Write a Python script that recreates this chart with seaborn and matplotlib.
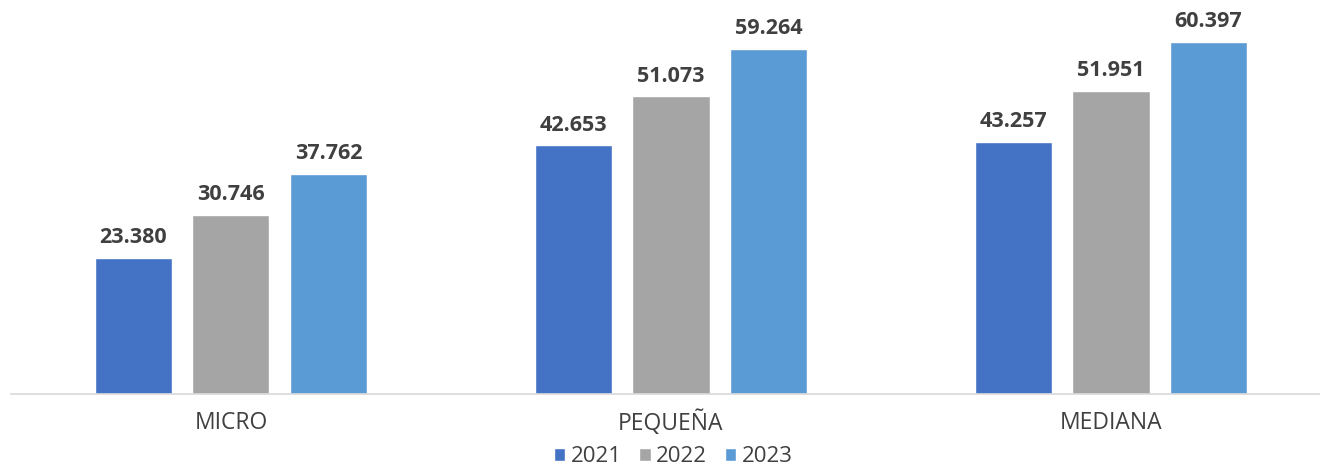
import pandas as pd
import matplotlib.pyplot as plt
import seaborn as sns

sns.set_theme(style="white")
plt.rcParams["font.family"] = ["Open Sans", "DejaVu Sans"]

# ── Data ──────────────────────────────────────────────────
categories = ["MICRO", "PEQUEÑA", "MEDIANA"]
years = ["2021", "2022", "2023"]
values_2021 = [23380, 42653, 43257]
values_2022 = [30746, 51073, 51951]
values_2023 = [37762, 59264, 60397]
colors = ["#4472C4", "#A5A5A5", "#5B9BD5"]

df = pd.DataFrame({
    "categoria": categories * 3,
    "anio": [y for y in years for _ in categories],
    "valor": values_2021 + values_2022 + values_2023,
})

text_color = "#404040"

fig = plt.figure(figsize=(13.2, 4.7), dpi=100)
ax = fig.add_axes([0.0083, 0.1617, 0.9917, 0.8383])

sns.barplot(data=df, x="categoria", y="valor", hue="anio",
            palette=colors, width=0.665, gap=0.21, ax=ax,
            saturation=1, legend=True)

for cont in ax.containers:
    labels = [f"{v:,.0f}".replace(",", ".") for v in cont.datavalues]
    ax.bar_label(cont, labels=labels, padding=7, fontsize=15.5,
                 fontweight="bold", color=text_color)

ax.set_xlim(-0.5, 2.475)
ax.set_ylim(0, 67600)
ax.set_xlabel("")
ax.set_ylabel("")
ax.set_yticks([])
ax.tick_params(axis="x", length=0, pad=12, labelsize=16.5, labelcolor=text_color)
for s in ["top", "right", "left"]:
    ax.spines[s].set_visible(False)
ax.spines["bottom"].set_color("#D9D9D9")
ax.spines["bottom"].set_linewidth(1.2)

handles, labels = ax.get_legend_handles_labels()
ax.get_legend().remove()
fig.legend(handles, labels, loc="lower center", bbox_to_anchor=(0.51, 0.006),
           ncol=3, frameon=False, fontsize=16, handlelength=0.5,
           handleheight=0.5, handletextpad=0.25, columnspacing=0.8,
           borderpad=0.0, borderaxespad=0.0, labelcolor=text_color)

plt.savefig("out.png", dpi=100)
